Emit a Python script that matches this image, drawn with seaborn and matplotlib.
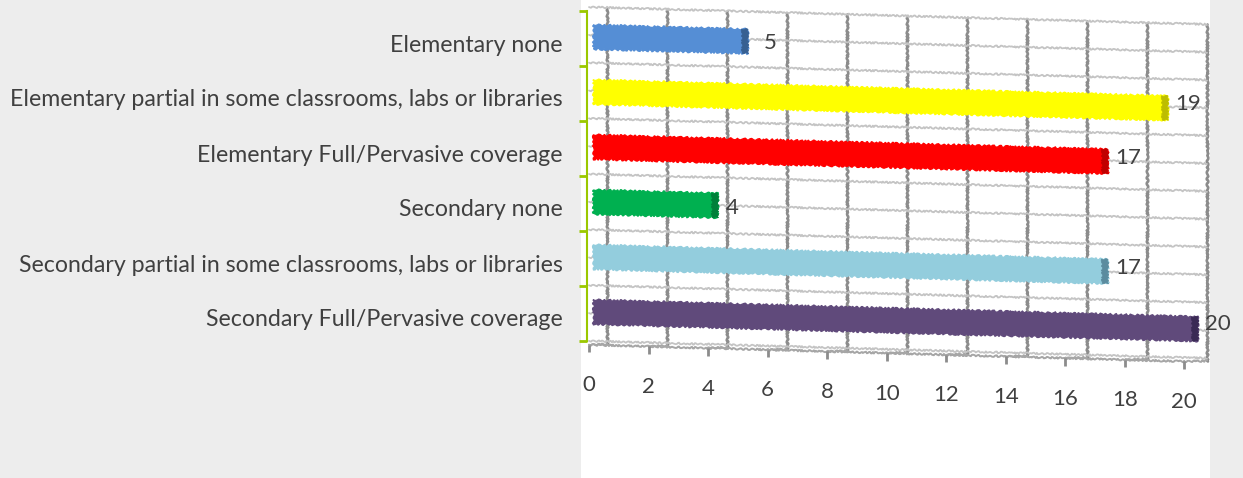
# Barras horizontales con aspecto de perspectiva (inclinadas)
# ------------------------------------------------------------------------------
import matplotlib
matplotlib.use("Agg")
import matplotlib.pyplot as plt
from matplotlib.patches import Rectangle
from matplotlib.transforms import Affine2D, ScaledTranslation
import numpy as np
import pandas as pd
import seaborn as sns

categorias = [
    "Elementary none",
    "Elementary partial in some classrooms, labs or libraries",
    "Elementary Full/Pervasive coverage",
    "Secondary none",
    "Secondary partial in some classrooms, labs or libraries",
    "Secondary Full/Pervasive coverage",
]
valores = [5, 19, 17, 4, 17, 20]
colores = ["#558ED5", "#FFFF00", "#FF0000", "#00B050", "#93CDDD", "#604A7B"]
colores_fin = ["#376092", "#BDBD00", "#C00000", "#00803A", "#5B8C9F", "#3A2A55"]
ticks_x = [0, 2, 4, 6, 8, 10, 12, 14, 16, 18, 20]

W, H = 1243, 478
GRIS = "#A6A6A6"
GRIS_OSC = "#8C8C8C"
VERDE = "#9BC800"
TEXTO = "#404040"

sns.set_style("white")
plt.rcParams["font.family"] = ["Lato", "DejaVu Sans"]

fig = plt.figure(figsize=(W / 100, H / 100), dpi=100, facecolor="#EDEDED")
fig.patches.append(Rectangle((581 / W, 0), 629 / W, 1, transform=fig.transFigure,
                             facecolor="white", edgecolor="none", zorder=-5))

# x=0 en el pixel 598, 30 px por unidad; filas de 55 px entre y=11 y y=341
ax = fig.add_axes([598 / W, 1 - 341 / H, 600 / W, 330 / H], facecolor="none")

df = pd.DataFrame({"categoria": categorias, "valor": valores})
sns.barplot(data=df, x="valor", y="categoria", hue="categoria", palette=colores,
            saturation=1, width=0.44, legend=False, dodge=False, ax=ax, zorder=3)
ax.set_xlim(0, 20)
ax.set_ylim(5.5, -0.5)
ax.set_xlabel("")
ax.set_ylabel("")


def inclinar(pendiente, dy_px):
    # baja pendiente px por cada px a la derecha, a partir de x=592
    x0, y0 = 592, H - 341
    return (Affine2D().translate(-x0, -y0).skew(0, np.arctan(-pendiente))
            .translate(x0, y0 - dy_px))


inclinada = ax.transData + inclinar(0.028, -1.5)
inclinada_textos = ax.transData + inclinar(0.013, 2.5)
plano = ax.transData + inclinar(0.028, 0)

# Barras: arrancan un poco antes del cero y llevan una tapa oscura al final
for barra, valor, color_fin in zip(ax.patches, valores, colores_fin):
    barra.set_x(-0.15)
    barra.set_width(valor + 0.15)
    barra.set_transform(inclinada)
    barra.set_edgecolor(barra.get_facecolor())
    barra.set_linewidth(1)
    barra.set_clip_on(False)
    barra.set_sketch_params(0.9, 6, 3)
    tapa = Rectangle((valor - 0.2, barra.get_y()), 0.2, barra.get_height(),
                     facecolor=color_fin, edgecolor=color_fin, lw=0.5,
                     transform=inclinada, clip_on=False, zorder=4)
    tapa.set_sketch_params(0.8, 5, 3)
    ax.add_patch(tapa)

# Pared del fondo
y_arriba, y_abajo = -0.57, 5.5
lineas = []
for v in ticks_x:
    lineas.append(ax.plot([v + 0.3, v + 0.3], [y_arriba, y_abajo + 0.05], color=GRIS_OSC,
                          lw=1.9, transform=plano, clip_on=False, zorder=1)[0])
for y in np.linspace(y_arriba, y_abajo, 13):
    lineas.append(ax.plot([-0.3, 20.3], [y, y], color="#C4C4C4", lw=1.3,
                          transform=plano, clip_on=False, zorder=1)[0])

# Suelo: lineas de profundidad y marcas del eje x
for v in ticks_x:
    x_frente = v * 0.992 - 0.3
    lineas.append(ax.plot([x_frente, v + 0.3], [5.57, y_abajo + 0.05], color=GRIS, lw=1.4,
                          transform=plano, clip_on=False, zorder=1)[0])
    ax.plot([x_frente, x_frente], [5.57, 5.71], color=GRIS_OSC, lw=2,
            transform=plano, clip_on=False, zorder=2, solid_capstyle="butt")
    ax.text(x_frente, 6.31, str(v), transform=plano, ha="center", va="center",
            fontsize=16, color=TEXTO, clip_on=False)
lineas.append(ax.plot([-0.3, 19.54], [5.57, 5.57], color=GRIS, lw=1.4,
                      transform=plano, clip_on=False, zorder=1)[0])
for linea in lineas:
    linea.set_sketch_params(0.8, 5, 3)

# Etiquetas de valor
for i, valor in enumerate(valores):
    separacion = 0.53 if valor == 5 else 0.25
    ax.text(valor + separacion, i, str(valor), transform=inclinada_textos, ha="left",
            va="center", fontsize=16, color=TEXTO, clip_on=False)

# Eje vertical verde y nombres de categoria
for lado in ["top", "right", "bottom"]:
    ax.spines[lado].set_visible(False)
ax.spines["left"].set_position(("outward", 11 * 0.72))
ax.spines["left"].set_color(VERDE)
ax.spines["left"].set_linewidth(1.5)
ax.set_xticks([])
ax.set_yticks(range(len(categorias)), labels=categorias)
ax.set_yticks(np.arange(-0.5, 6), minor=True)
ax.tick_params(axis="y", which="major", left=False, length=0, pad=17.3, labelsize=16.7,
               labelcolor=TEXTO)
ax.tick_params(axis="y", which="minor", left=True, length=6, width=2, color=VERDE,
               direction="out")
desplazar = ScaledTranslation(0, -4.5 / 100, fig.dpi_scale_trans)
for etiqueta in ax.get_yticklabels():
    etiqueta.set_transform(etiqueta.get_transform() + desplazar)

fig.savefig("out.png", dpi=100, facecolor=fig.get_facecolor())
